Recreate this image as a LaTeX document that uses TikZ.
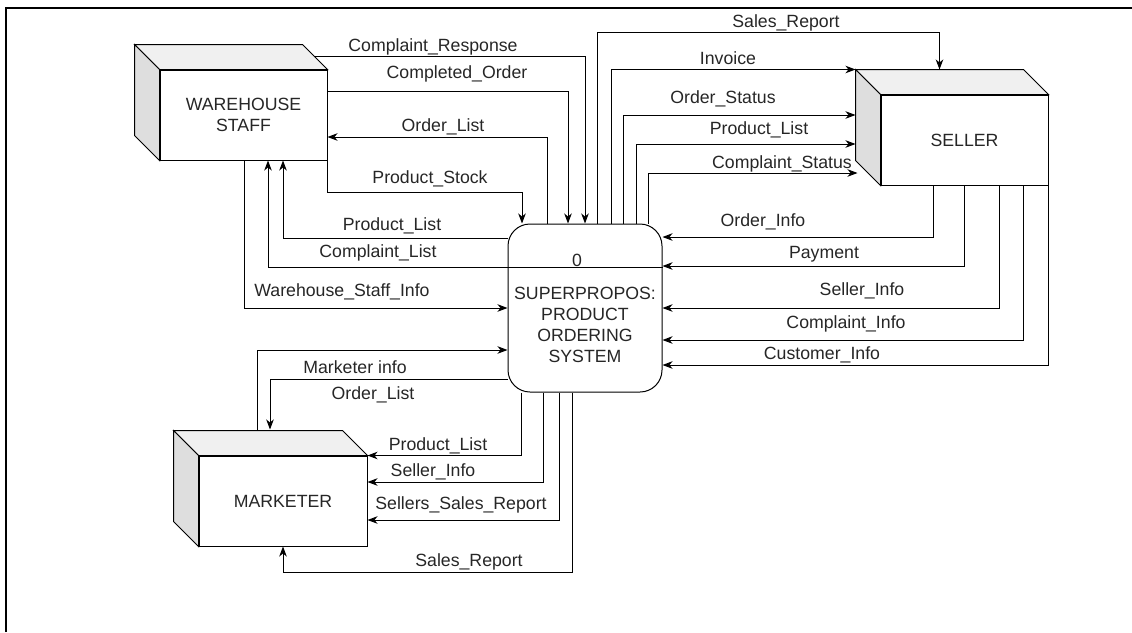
\documentclass[tikz,border=0pt]{standalone}
\usepackage{fontspec}
\setmainfont{Liberation Sans}
\usetikzlibrary{arrows.meta,calc}
\tikzset{
  txt/.style={font=\fontsize{17.7}{21}\selectfont, text=black!85},
  lbl/.style={txt, inner sep=0pt, anchor=base},
  wire/.style={line width=1pt},
  flow/.style={wire, -{Stealth[length=10pt,width=7.5pt,inset=3pt]}},
  entity/.style={draw, wire, txt, minimum width=167pt, minimum height=90pt, inner sep=0pt, align=center},
  process/.style={draw, wire, txt, rounded corners=22pt, minimum width=154pt, minimum height=168pt, inner sep=0pt, align=center}
}
% top and side faces of an external entity
\newcommand{\cubefaces}[1]{%
  \filldraw[wire, fill=black!6] ($(#1.north west)+(-25,-25)$) -- ($(#1.north east)+(-25,-25)$) -- (#1.north east) -- (#1.north west) -- cycle;
  \filldraw[wire, fill=black!13] ($(#1.north west)+(-25,-25)$) -- ($(#1.south west)+(-25,-25)$) -- (#1.south west) -- (#1.north west) -- cycle;
}

\begin{document}
\begin{tikzpicture}[x=1pt, y=-1pt]
  \useasboundingbox (0,0) rectangle (1132,632);
  \draw[line width=2.2pt] (6,632) -- (6,7.7) -- (1132,7.7);

  % entities and process
  \node[entity] (wh) at (243.5,115) {WAREHOUSE\\STAFF};
  \node[entity] (sel) at (964.5,140) {SELLER};
  \node[entity, minimum width=168pt] (mkt) at (283,501) {MARKETER};
  \cubefaces{wh}
  \cubefaces{sel}
  \cubefaces{mkt}
  \node[process] (proc) at (585,308) {0\kern16pt\\[12pt]SUPERPROPOS:\\PRODUCT\\ORDERING\\SYSTEM};

  \coordinate (selNW) at ($(sel.north west)+(-25,-25)$);
  \coordinate (selB) at ($(sel.north)+(-25,-25)$);
  \coordinate (mktB) at ($(mkt.north)+(-25,-26)$);

  % warehouse staff
  \draw[flow] ($(wh.north east)+(-13,-13)$) -| (585,0 |- proc.north);
  \draw[flow] (wh.east |- 0,91) -| (568,0 |- proc.north);
  \draw[flow] (547,0 |- proc.north) |- (wh.east |- 0,137);
  \draw[flow] (wh.south east) -- ++(0,32) -| (522,0 |- proc.north);
  \draw[flow] (proc.west |- 0,238) -| (283,0 |- wh.south);
  \draw[flow] (proc.east |- 0,267) -| (268,0 |- wh.south);
  \draw[flow] (244,0 |- wh.south) |- (proc.west |- 0,308);
  \node[lbl] (l1) at (433,51) {Complaint\_Response};
  \node[lbl] (l2) at (457,78) {Completed\_Order};
  \node[lbl] (l3) at (443,131) {Order\_List};
  \node[lbl] (l4) at (430,183) {Product\_Stock};
  \node[lbl] (l5) at (392,230) {Product\_List};
  \node[lbl] (l6) at (378,257) {Complaint\_List};
  \node[lbl] (l7) at (342,296) {Warehouse\_Staff\_Info};

  % marketer
  \draw[flow] (mktB -| 257,0) |- (proc.west |- 0,350);
  \draw[flow] (proc.west |- 0,379) -| (mktB -| 270,0);
  \draw[flow] (521,0 |- proc.south) |- (mkt.north east);
  \draw[flow] (543,0 |- proc.south) |- (mkt.east |- 0,482);
  \draw[flow] (559,0 |- proc.south) |- (mkt.east |- 0,520);
  \draw[flow] (572,0 |- proc.south) |- (mkt.south |- 0,572) -- (mkt.south);
  \node[lbl] (l8) at (355,373) {Marketer info};
  \node[lbl] (l9) at (373,399) {Order\_List};
  \node[lbl] (l10) at (438,450) {Product\_List};
  \node[lbl] (l11) at (433,476) {Seller\_Info};
  \node[lbl] (l12) at (461,509) {Sellers\_Sales\_Report};
  \node[lbl] (l13) at (469,566) {Sales\_Report};

  % seller
  \draw[flow] (597,0 |- proc.north) |- (selB |- 0,32) -- (selB);
  \draw[flow] (611,0 |- proc.north) |- (selNW);
  \draw[flow] (623,0 |- proc.north) |- (selNW |- 0,115);
  \draw[flow] (636,0 |- proc.north) |- (selNW |- 0,144);
  \draw[flow] (648,0 |- proc.north) |- ($(selNW |- 0,173)+(2,0)$);
  \draw[flow] (933,0 |- sel.south) |- (proc.east |- 0,237);
  \draw[flow] (964,0 |- sel.south) |- (proc.east |- 0,266);
  \draw[flow] (999,0 |- sel.south) |- (proc.east |- 0,308);
  \draw[flow] (1023,0 |- sel.south) |- (proc.east |- 0,340);
  \draw[flow] (sel.south east) |- (proc.east |- 0,365);
  \node[lbl] (l14) at (786,27) {Sales\_Report};
  \node[lbl] (l15) at (728,64) {Invoice};
  \node[lbl] (l16) at (723,103) {Order\_Status};
  \node[lbl] (l17) at (759,134) {Product\_List};
  \node[lbl] (l18) at (782,168) {Complaint\_Status};
  \node[lbl] (l19) at (763,226) {Order\_Info};
  \node[lbl] (l20) at (824,258) {Payment};
  \node[lbl] (l21) at (862,295) {Seller\_Info};
  \node[lbl] (l22) at (846,328) {Complaint\_Info};
  \node[lbl] (l23) at (822,359) {Customer\_Info};
\end{tikzpicture}
\end{document}
